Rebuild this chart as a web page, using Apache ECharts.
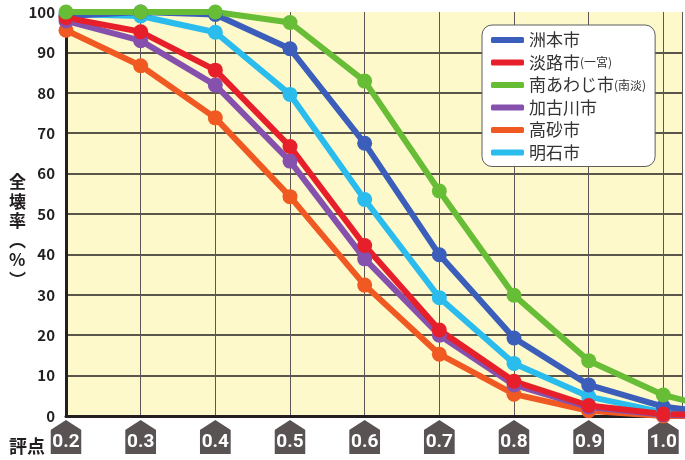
<!DOCTYPE html>
<html><head><meta charset="utf-8">
<script src="https://cdn.jsdelivr.net/npm/echarts@6/dist/echarts.min.js"></script>
<style>html,body{margin:0;padding:0;background:#fff}#c{width:685px;height:460px}</style>
</head><body><div id="c"></div>
<script>
// x positions in tenths (2 = 0.2 ... 10 = 1.0, 11 = continuation beyond the frame)
const xTenths = [2, 3, 4, 5, 6, 7, 8, 9, 10, 11];
const tickLabels = ['0.2','0.3','0.4','0.5','0.6','0.7','0.8','0.9','1.0'];
const yTicks = [0,10,20,30,40,50,60,70,80,90,100];
const names = ['洲本市','淡路市(一宮)','南あわじ市(南淡)','加古川市','高砂市','明石市'];
const sumoto    = [99.0, 100, 99.4, 90.9, 67.5, 39.9, 19.3, 7.7, 2.3, 0.1];
const awaji     = [98.6, 95.1, 85.6, 66.7, 42.2, 21.3, 8.6, 2.6, 0.5, 0];
const minami    = [100, 100, 100, 97.4, 82.9, 55.7, 29.9, 13.7, 5.2, 0.5];
const kakogawa  = [97.8, 92.9, 81.9, 63.1, 38.9, 20.0, 7.7, 2.2, 0.3, 0];
const takasago  = [95.5, 86.7, 73.8, 54.3, 32.4, 15.3, 5.4, 1.3, 0, 0];
const akashi    = [99.5, 99.0, 95.0, 79.6, 53.6, 29.3, 13.0, 4.8, 0.9, 0];
const colors = {
  '洲本市':'#3a5eb9', '淡路市(一宮)':'#e61f2b', '南あわじ市(南淡)':'#67bd35',
  '加古川市':'#8651ad', '高砂市':'#f05a22', '明石市':'#2bbcee'
};
const seriesValues = {
  '洲本市':sumoto, '淡路市(一宮)':awaji, '南あわじ市(南淡)':minami,
  '加古川市':kakogawa, '高砂市':takasago, '明石市':akashi
};
const drawOrder = ['高砂市','加古川市','明石市','洲本市','淡路市(一宮)','南あわじ市(南淡)'];

const FONT = '"Noto Sans CJK JP", "Noto Sans", sans-serif';
const BADGE_FONT = 'Roboto, "Noto Sans", sans-serif';
const badgeSvg = 'data:image/svg+xml;charset=utf-8,' + encodeURIComponent(
  '<svg xmlns="http://www.w3.org/2000/svg" width="31" height="34" viewBox="0 0 31 34">' +
  '<polygon points="15.5,0 31,10 31,34 0,34 0,10" fill="#595354"/></svg>');

const chart = echarts.init(document.getElementById('c'), null, {renderer:'canvas'});
chart.setOption({
  animation: false,
  backgroundColor: '#ffffff',
  grid: { left: 66, right: 0, top: 12, bottom: 44, show: true, backgroundColor: '#fdf9cb', borderWidth: 0 },
  xAxis: {
    type: 'value', min: 2, max: 10.25, interval: 1,
    axisLine: { show: true, lineStyle: { color: '#231f20', width: 3 } },
    axisTick: { show: false },
    splitLine: { show: true, lineStyle: { color: '#5c5656', width: 1 } },
    axisLabel: {
      margin: 9,
      formatter: function (v) {
        const i = Math.round(v) - 2;
        if (Math.abs(v - Math.round(v)) > 1e-6 || i < 0 || i >= tickLabels.length) return '';
        return '{b|' + tickLabels[i] + '}';
      },
      rich: {
        b: {
          color: '#ffffff', fontFamily: BADGE_FONT, fontWeight: 'bold', fontSize: 19,
          width: 31, height: 24, lineHeight: 24, align: 'center',
          padding: [10, 0, 0, 0],
          backgroundColor: { image: badgeSvg }
        }
      }
    }
  },
  yAxis: {
    type: 'value', min: 0, max: 100, interval: 10,
    axisLine: { show: true, lineStyle: { color: '#231f20', width: 3 } },
    axisTick: { show: false },
    splitLine: { show: true, showMaxLine: false, lineStyle: { color: '#231f20', width: 1.5 } },
    axisLabel: {
      margin: 11, color: '#231f20', fontFamily: FONT, fontWeight: 'bold', fontSize: 15,
      formatter: function (v) { return yTicks.indexOf(v) >= 0 ? String(v) : ''; }
    }
  },
  legend: {
    orient: 'vertical', left: 482, top: 25,
    data: names,
    icon: 'roundRect', itemWidth: 33, itemHeight: 6, itemGap: 2.5,
    padding: [5, 9, 4, 9],
    backgroundColor: '#ffffff', borderColor: '#5e5e5e', borderWidth: 1, borderRadius: 10,
    textStyle: {
      color: '#333333', fontFamily: FONT, fontSize: 17, lineHeight: 20,
      rich: { s: { color: '#333333', fontFamily: FONT, fontSize: 12, lineHeight: 20 } }
    },
    formatter: function (name) {
      const m = name.match(/^(.*?)(\(.*\))$/);
      if (m) return m[1] + '{s|' + m[2] + '}';
      return name;
    }
  },
  graphic: [
    { type: 'text', left: 9, top: 437,
      style: { text: '評点', fill: '#231f20', font: 'bold 18px ' + FONT } },
    { type: 'text', left: 9, top: 172,
      style: { text: '全\n壊\n率\n︵\n%\n︶', fill: '#231f20', font: 'bold 17px ' + FONT,
               lineHeight: 19.5, align: 'left' } }
  ],
  series: drawOrder.map(function (n) {
    return {
      name: n, type: 'line',
      data: xTenths.map(function (x, i) { return [x, seriesValues[n][i]]; }),
      symbol: 'circle', symbolSize: 15, showAllSymbol: true,
      lineStyle: { width: 6, color: colors[n] },
      itemStyle: { color: colors[n] },
      clip: true
    };
  })
});
</script>
</body></html>
